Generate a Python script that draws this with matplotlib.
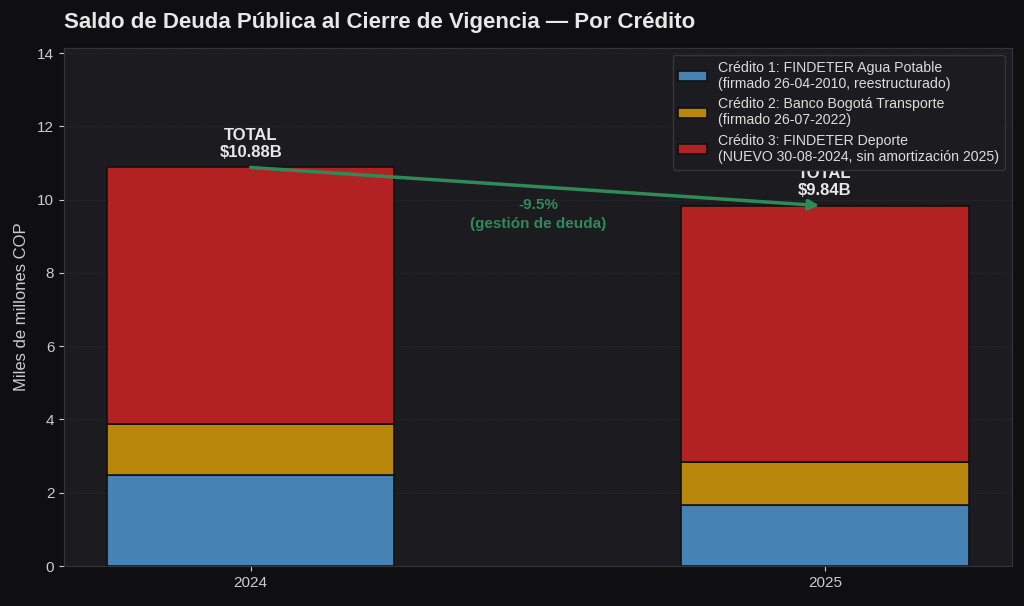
import matplotlib
matplotlib.use("Agg")
import matplotlib.pyplot as plt
import numpy as np

plt.rcParams['font.family'] = ['Liberation Sans', 'DejaVu Sans']

years = ["2024", "2025"]
credito1 = [2.48, 1.67]
credito2 = [1.40, 1.17]
credito3 = [7.00, 7.00]
labels = [
    "Crédito 1: FINDETER Agua Potable\n(firmado 26-04-2010, reestructurado)",
    "Crédito 2: Banco Bogotá Transporte\n(firmado 26-07-2022)",
    "Crédito 3: FINDETER Deporte\n(NUEVO 30-08-2024, sin amortización 2025)",
]
colors = ["#4682b4", "#b8860b", "#b22222"]
change_label = "-9.5%\n(gestión de deuda)"

totals = [a + b + c for a, b, c in zip(credito1, credito2, credito3)]

fig_bg = "#0f0f11"
ax_bg = "#1c1c20"
text_col = "#e8e8e8"
green = "#2e8b57"

fig, ax = plt.subplots(figsize=(10.24, 6.06), dpi=100)
fig.patch.set_facecolor(fig_bg)
ax.set_facecolor(ax_bg)

x = np.arange(len(years))
w = 0.5
bottom = np.zeros(len(years))
for vals, lab, col in zip([credito1, credito2, credito3], labels, colors):
    ax.bar(x, vals, w, bottom=bottom, color=col, edgecolor="#111111",
           linewidth=1.2, label=lab, zorder=3)
    bottom += np.array(vals)

for xi, t in zip(x, totals):
    ax.text(xi, t + 0.2, f"TOTAL\n${t:.2f}B", ha="center", va="bottom",
            fontsize=12, fontweight="bold", color=text_col, zorder=4)

ax.annotate("", xy=(x[1] - 0.01, totals[1]), xytext=(x[0], totals[0]),
            arrowprops=dict(arrowstyle="-|>", color=green, lw=2.5,
                            mutation_scale=15, shrinkA=0, shrinkB=0),
            zorder=5)
ax.text(0.5, (totals[0] + totals[1]) / 2 - 0.77, change_label,
        ha="center", va="center", fontsize=11, fontweight="bold",
        color=green, zorder=5, linespacing=1.4)

ax.set_ylim(0, max(totals) * 1.3)
ax.set_xticks(x)
ax.set_xticklabels(years)
ax.set_ylabel("Miles de millones COP", fontsize=12, color="#cccccc", labelpad=6)
ax.set_title("Saldo de Deuda Pública al Cierre de Vigencia — Por Crédito",
             loc="left", fontsize=16, fontweight="bold", color=text_col, pad=14)

ax.tick_params(colors="#cccccc", labelsize=11)
ax.grid(axis="y", color="#26262b", linestyle="--", linewidth=0.6, zorder=0)
for s in ax.spines.values():
    s.set_color("#34343a")

leg = ax.legend(loc="upper right", fontsize=10.2, facecolor="#1c1c20",
                edgecolor="#34343a", labelcolor="#dddddd", framealpha=1,
                labelspacing=0.45, handlelength=2.0)
leg.set_zorder(10)

plt.subplots_adjust(left=0.0625, right=0.988, top=0.921, bottom=0.066)
plt.savefig("out.png", dpi=100, facecolor=fig_bg)
